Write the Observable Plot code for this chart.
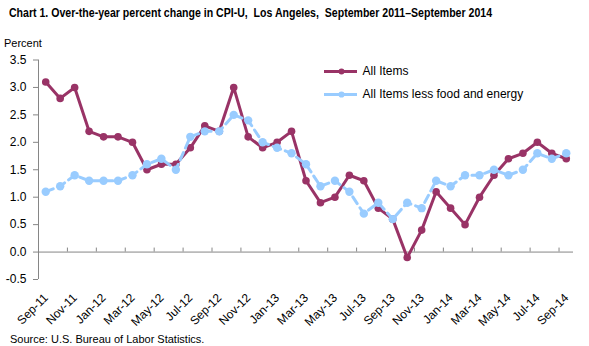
<!DOCTYPE html>
<html>
<head>
<meta charset="utf-8">
<script src="https://cdn.jsdelivr.net/npm/d3@7"></script>
<script src="https://cdn.jsdelivr.net/npm/@observablehq/plot@0.6"></script>
<style>
  html, body { margin: 0; padding: 0; background: #fff; }
  #wrap { position: relative; width: 589px; height: 346px; overflow: hidden; font-family: "Liberation Sans", Arial, sans-serif; color: #000; }
  #wrap svg { position: absolute; left: 0; top: 0; }
  .abs { position: absolute; white-space: nowrap; line-height: 1; }
  #title { left: 9px; top: 7px; font-size: 12px; font-weight: bold; transform-origin: 0 0; }
  #ylab { left: 4px; top: 38px; font-size: 11px; }
  #source { left: 10px; top: 334px; font-size: 11px; }
</style>
</head>
<body>
<div id="wrap">
  <div id="chart"></div>
  <div id="title" class="abs">Chart 1. Over-the-year percent change in CPI-U,&nbsp; Los Angeles,&nbsp; September 2011–September 2014</div>
  <div id="ylab" class="abs">Percent</div>
  <div id="source" class="abs">Source: U.S. Bureau of Labor Statistics.</div>
</div>
<script>
const months = ["Sep-11","Oct-11","Nov-11","Dec-11","Jan-12","Feb-12","Mar-12","Apr-12","May-12","Jun-12","Jul-12","Aug-12",
  "Sep-12","Oct-12","Nov-12","Dec-12","Jan-13","Feb-13","Mar-13","Apr-13","May-13","Jun-13","Jul-13","Aug-13",
  "Sep-13","Oct-13","Nov-13","Dec-13","Jan-14","Feb-14","Mar-14","Apr-14","May-14","Jun-14","Jul-14","Aug-14","Sep-14"];
const allItems = [3.1,2.8,3.0,2.2,2.1,2.1,2.0,1.5,1.6,1.6,1.9,2.3,
  2.2,3.0,2.1,1.9,2.0,2.2,1.3,0.9,1.0,1.4,1.3,0.8,
  0.6,-0.1,0.4,1.1,0.8,0.5,1.0,1.4,1.7,1.8,2.0,1.8,1.7];
const coreItems = [1.1,1.2,1.4,1.3,1.3,1.3,1.4,1.6,1.7,1.5,2.1,2.2,
  2.2,2.5,2.4,2.0,1.9,1.8,1.6,1.2,1.3,1.1,0.7,0.9,
  0.6,0.9,0.8,1.3,1.2,1.4,1.4,1.5,1.4,1.5,1.8,1.7,1.8];
const seriesNames = ["All Items", "All Items less food and energy"];
const yTicks = [-0.5, 0.0, 0.5, 1.0, 1.5, 2.0, 2.5, 3.0, 3.5];

const colors = ["#993366", "#99ccff"];
const data = months.map((m, i) => ({i, m, all: allItems[i], core: coreItems[i]}));
const labelIdx = months.map((m, i) => i).filter(i => i % 2 === 0);
const boundaryIdx = months.map((m, i) => i + 1.5).filter(v => v < months.length - 1 && (v - 1.5) % 2 === 0);
const axisGray = "#868686";

const chart = Plot.plot({
  width: 589, height: 346,
  marginLeft: 38, marginRight: 16, marginTop: 59.5, marginBottom: 67,
  style: {fontFamily: "'Liberation Sans', Arial, sans-serif", fontSize: "12px", color: "#000", background: "transparent"},
  x: {type: "linear", domain: [-0.5, months.length - 0.5], axis: null},
  y: {domain: [yTicks[0], yTicks[yTicks.length - 1]], axis: null},
  marks: [
    Plot.axisY({ticks: yTicks, tickFormat: d => d.toFixed(1), tickSize: 5, tickPadding: 7, fontSize: 12, stroke: axisGray, fill: "#000"}),
    Plot.ruleX([-0.5], {stroke: axisGray}),
    Plot.ruleY([0], {stroke: axisGray}),
    Plot.ruleX(boundaryIdx, {x: d => d, y1: 0, y2: 0, insetTop: -4, stroke: axisGray}),
    Plot.line(data, {x: "i", y: "all", stroke: colors[0], strokeWidth: 3}),
    Plot.dot(data, {x: "i", y: "all", r: 3.8, fill: colors[0]}),
    Plot.line(data, {x: "i", y: "core", stroke: colors[1], strokeWidth: 3, strokeDasharray: "8,5"}),
    Plot.dot(data, {x: "i", y: "core", r: 4.2, fill: colors[1]}),
    Plot.text(labelIdx, {x: d => d, text: d => months[d], frameAnchor: "bottom", rotate: -45, textAnchor: "end", dx: 3, dy: 19, fontSize: 12, fill: "#000"})
  ]
});
document.getElementById("chart").appendChild(chart);

// legend (drawn with Plot using the series names)
const legendData = seriesNames.map((name, k) => ({name, k}));
const legend = Plot.plot({
  width: 260, height: 50, margin: 0,
  x: {domain: [0, 260], axis: null},
  y: {domain: [0, 50], axis: null, reverse: true},
  style: {fontFamily: "'Liberation Sans', Arial, sans-serif", fontSize: "12px", background: "transparent", overflow: "visible"},
  marks: [
    Plot.ruleY(legendData, {y: d => 11 + d.k * 23, x1: 4, x2: 37, stroke: d => colors[d.k], strokeWidth: 3, strokeDasharray: d => d.k ? "8,5" : null}),
    Plot.dot(legendData, {x: 21, y: d => 11 + d.k * 23, r: d => d.k ? 4.2 : 3.8, fill: d => colors[d.k]}),
    Plot.text(legendData, {x: 42, y: d => 11 + d.k * 23, text: "name", textAnchor: "start", fontSize: 12, fill: "#000"})
  ]
});
legend.style.left = "320px";
legend.style.top = "60px";
document.getElementById("wrap").appendChild(legend);

// fit title to the reference width
const t = document.getElementById("title");
const w = t.getBoundingClientRect().width;
t.style.transform = `scaleX(${483 / w})`;
</script>
</body>
</html>
